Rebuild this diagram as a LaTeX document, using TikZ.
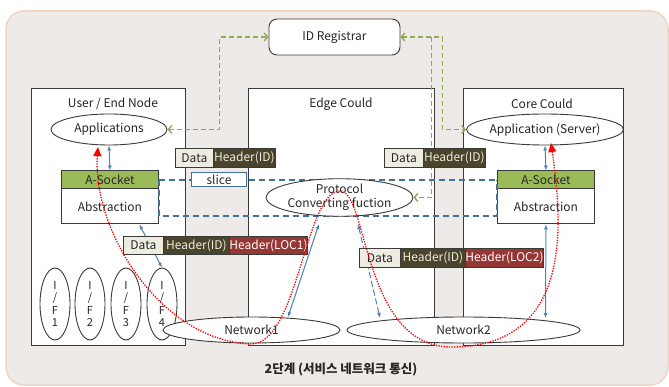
\documentclass[tikz,border=0pt]{standalone}
\usepackage{fontspec}
\setmainfont{Noto Sans CJK KR}
\usetikzlibrary{arrows.meta,shapes.geometric,calc}
\definecolor{bgfill}{HTML}{EEEAE7}
\definecolor{bgline}{HTML}{EFD5C0}
\definecolor{boxline}{HTML}{3A3A3A}
\definecolor{txt}{HTML}{262626}
\definecolor{sockgreen}{HTML}{9BBB59}
\definecolor{datafill}{HTML}{EEECE1}
\definecolor{idfill}{HTML}{4A452A}
\definecolor{locfill}{HTML}{953735}
\definecolor{arrowblue}{HTML}{4F81BD}
\definecolor{tunnelblue}{HTML}{41719C}
\definecolor{regreen}{HTML}{8FAB58}
\tikzset{
  every node/.style={font=\fontsize{12}{14}\selectfont, text=txt},
  container/.style={draw=boxline, fill=white, line width=0.9pt, anchor=north west, inner sep=0, minimum height=257pt},
  oval/.style={ellipse, draw=boxline, fill=white, line width=0.9pt, inner sep=0},
  cell/.style={draw=boxline, line width=0.8pt, anchor=north west, inner sep=0, minimum height=19pt},
  datacell/.style={cell, fill=datafill},
  idcell/.style={cell, fill=idfill, text=datafill},
  loccell/.style={cell, fill=locfill, text=white},
  sockhead/.style={draw=boxline, fill=sockgreen, line width=0.9pt, anchor=north west, inner sep=0, minimum width=97pt, minimum height=18pt},
  sockbody/.style={draw=boxline, fill=white, line width=0.9pt, anchor=north west, inner sep=0, minimum width=97pt, minimum height=35pt},
  ifoval/.style={oval, minimum width=30pt, minimum height=72pt, align=center, font=\fontsize{11}{12.5}\selectfont},
  barrow/.style={arrowblue, line width=1pt, {Latex[length=5pt,width=4pt]}-{Latex[length=5pt,width=4pt]}},
  tunnel/.style={tunnelblue, line width=1.5pt, dash pattern=on 6pt off 4pt},
  gline/.style={regreen, line width=1.4pt, dash pattern=on 5pt off 3pt},
  gboth/.style={{Straight Barb[length=3.5pt,width=8pt]}-{Straight Barb[length=3.5pt,width=8pt]}},
  gend/.style={-{Straight Barb[length=3.5pt,width=8pt]}},
  rline/.style={red, line width=1.3pt, dash pattern=on 1.3pt off 1.3pt, {Triangle[length=9pt,width=8pt]}-{Triangle[length=9pt,width=8pt]}}
}
\begin{document}
\begin{tikzpicture}[x=1pt,y=-1pt]
\useasboundingbox (0,0) rectangle (669,387);
\draw[fill=bgfill, draw=bgline, line width=1.5pt, rounded corners=18pt] (6,11) rectangle (668,385);

% containers
\node[container, minimum width=154pt] (user) at (31,88) {};
\node[container, minimum width=186pt] (edge) at (248,88) {};
\node[container, minimum width=160pt] (core) at (463,88) {};
\node (usert) at (113,104) {User / End Node};
\node (edget) at (341,104) {Edge Could};
\node (coret) at (542,104) {Core Could};

% ID registrar
\node[draw=boxline, fill=white, line width=0.9pt, rounded corners=8pt, minimum width=131pt, minimum height=36pt, inner sep=0] (idreg) at (334.5,37) {ID Registrar};

% ellipses
\node[oval, minimum width=116pt, minimum height=31pt] (apps) at (109,129.5) {Applications};
\node[oval, minimum width=144pt, minimum height=31pt] (server) at (545,129.5) {Application (Server)};

% sockets
\node[sockhead] (lsock) at (61,170.5) {A-Socket};
\node[sockbody] (labs) at (61,188.5) {Abstraction};
\node[sockhead] (rsock) at (497,170.5) {A-Socket};
\node[sockbody] (rabs) at (497,188.5) {Abstraction};

% tunnel
\draw[tunnel] (lsock.east) -- (rsock.west);
\draw[tunnel] (lsock.east) -- (lsock.east |- 0,216) -- (rsock.west |- 0,216) -- (rsock.west);
\node[draw=tunnelblue, fill=white, line width=1pt, anchor=north west, inner sep=0, minimum width=55pt, minimum height=14pt] (slice) at (191,172.5) {slice};

% protocol
\node[oval, minimum width=147pt, minimum height=29pt, align=center] (proto) at (339.5,197.5) {Protocol\\Converting fuction};

% interfaces
\node[ifoval] (if1) at (55,304) {I\\/\\F\\1};
\node[ifoval] (if2) at (90,304) {I\\/\\F\\2};
\node[ifoval] (if3) at (126,304) {I\\/\\F\\3};
\node[ifoval] (if4) at (162,304) {I\\/\\F\\4};

% free ends
\coordinate (pa) at (319,224);
\coordinate (pb) at (358,224);
\coordinate (n1a) at (288,317);
\coordinate (n2a) at (380,318);
\coordinate (n2b) at (545.5,318);

% blue arrows (under packets)
\draw[barrow] (apps.south) -- (lsock.north);
\draw[barrow] (server.south) -- (rsock.north);
\draw[barrow] ($(labs.south)!0.6!(labs.south east)$) -- (if4.north);
\draw[barrow, dash pattern=on 6pt off 3pt] (pb) -- (n2a);
\draw[barrow] (rabs.south) -- (n2b);

% networks
\node[oval, minimum width=177pt, minimum height=26pt] (net1) at (251.5,330) {Network1};
\node[oval, minimum width=233pt, minimum height=26pt] (net2) at (463.5,330) {Network2};
\draw[barrow] (n1a) -- (pa);

% green dashed to registrar
\draw[gline, gboth] (apps.east) -- ++(52,0) |- (idreg.west);
\draw[gline, gboth] (idreg.east) -- ++(42,0) |- (server.west);
\draw[gline, gend] ($(idreg.east)+(31,0)$) |- (proto.east);

% packets
\node[datacell, minimum width=38pt] (d1) at (175,148) {Data};
\node[idcell, minimum width=62pt] (h1) at (213,148) {Header(ID)};
\node[datacell, minimum width=39pt] (d2) at (384,148) {Data};
\node[idcell, minimum width=62pt] (h2) at (423,148) {Header(ID)};
\node[datacell, minimum width=40pt, minimum height=18pt] (d3) at (123,236) {Data};
\node[idcell, minimum width=66pt, minimum height=18pt] (h3) at (163,236) {Header(ID)};
\node[loccell, minimum width=78pt, minimum height=18pt] (l3) at (229,236) {Header(LOC1)};
\node[datacell, minimum width=41pt] (d4) at (359,248) {Data};
\node[idcell, minimum width=65pt] (h4) at (400,248) {Header(ID)};
\node[loccell, minimum width=78pt] (l4) at (465,248) {Header(LOC2)};

% red dotted path
\coordinate (rs) at (98,147);
\coordinate (re) at (551,143);
\draw[rline] (rs) .. controls (92,230) and (160,340) .. (250,344)
  .. controls (298,346) and (305,191) .. (340,191)
  .. controls (368,191) and (362,345) .. (450,347)
  .. controls (575,348) and (562,220) .. (re);

% caption
\node[font=\bfseries\fontsize{12.5}{14}\selectfont] (cap) at (341,369) {2단계 (서비스 네트워크 통신)};
\end{tikzpicture}
\end{document}
